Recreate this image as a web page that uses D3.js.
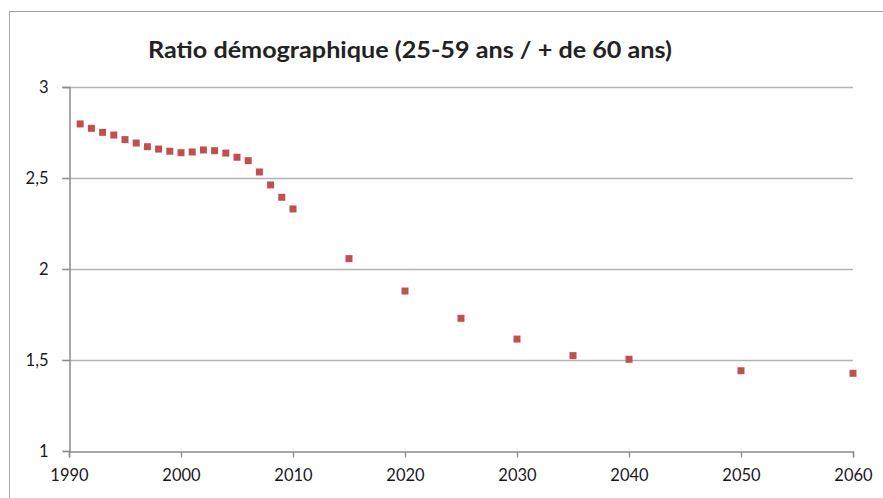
<!DOCTYPE html>
<html><head><meta charset="utf-8">
<script src="https://cdn.jsdelivr.net/npm/d3@7"></script>
<style>body{margin:0;background:#fff}svg{display:block}</style>
</head><body>
<svg id="c" width="883" height="498"></svg>
<script>
const title = "Ratio démographique (25-59 ans / + de 60 ans)";
const years = [1991,1992,1993,1994,1995,1996,1997,1998,1999,2000,2001,2002,2003,2004,2005,2006,2007,2008,2009,2010,2015,2020,2025,2030,2035,2040,2050,2060];
const ratios = [2.797,2.773,2.751,2.736,2.711,2.692,2.672,2.659,2.647,2.639,2.643,2.654,2.650,2.637,2.614,2.595,2.533,2.462,2.394,2.330,2.057,1.879,1.729,1.615,1.524,1.504,1.441,1.427];
const xTicks = [1990,2000,2010,2020,2030,2040,2050,2060];
const yTicks = [1,1.5,2,2.5,3];

const svg = d3.select("#c");
const font = "Lato, 'Open Sans', sans-serif";
svg.append("rect").attr("x",9.5).attr("y",11.5).attr("width",890).attr("height",500)
  .attr("fill","none").attr("stroke","#a6a6a6").attr("stroke-width",1);

const x = d3.scaleLinear().domain([1990,2060]).range([69,853]);
const y = d3.scaleLinear().domain([1,3]).range([451,87]);

// gridlines
svg.append("g").selectAll("line").data(yTicks.filter(d=>d>1)).join("line")
  .attr("x1",62).attr("x2",853).attr("y1",d=>Math.round(y(d))+0.5).attr("y2",d=>Math.round(y(d))+0.5)
  .attr("stroke","#b3b3b3").attr("stroke-width",1.3);

const yAxis = svg.append("g").attr("transform","translate(69.5,0)")
  .call(d3.axisLeft(y).tickValues(yTicks).tickSize(7).tickPadding(14).tickFormat(d=>String(d).replace(".",",")));
const xAxis = svg.append("g").attr("transform","translate(0,451.5)")
  .call(d3.axisBottom(x).tickValues(xTicks).tickSize(6).tickPadding(12).tickFormat(d3.format("d")));
[yAxis,xAxis].forEach(g=>{
  g.select(".domain").attr("stroke","#8c8c8c").attr("stroke-width",1.5);
  g.selectAll(".tick line").attr("stroke","#8c8c8c").attr("stroke-width",1.3);
  g.selectAll("text").attr("font-family",font).attr("font-size",16.5).attr("fill","#1a1a1a");
});

svg.append("g").selectAll("rect").data(years.map((d,i)=>[d,ratios[i]])).join("rect")
  .attr("x",d=>x(d[0])-3.5).attr("y",d=>y(d[1])-3.5).attr("width",7).attr("height",7)
  .attr("fill","#c0504d");

svg.append("text").attr("x",410).attr("y",58).attr("text-anchor","middle")
  .attr("font-family",font).attr("font-weight","bold").attr("font-size",23).attr("fill","#222")
  .attr("textLength",524).attr("lengthAdjust","spacingAndGlyphs")
  .text(title);
</script>
</body></html>
